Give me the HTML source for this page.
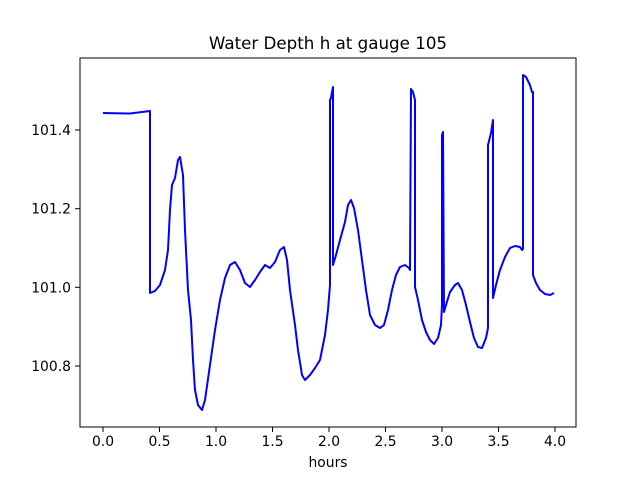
<!DOCTYPE html>
<html><head><meta charset="utf-8"><style>
body{margin:0;background:#fff;}
svg text{font-family:"DejaVu Sans","Liberation Sans",sans-serif;fill:#000;}
</style></head><body>
<svg width="640" height="480" xmlns="http://www.w3.org/2000/svg">
<rect width="640" height="480" fill="#fff"/>
<polyline fill="none" stroke="#0000ff" stroke-width="2" stroke-linejoin="round" points="103,113 130,113.5 150,111 150,293 155,291 160,285 165,270 168,250 170,210 172,185 175,178 178,160 180,157 183,175 185,230 188,290 191,320 193,360 195,390 198,405 202,410 205,400 210,365 215,330 220,300 225,278 230,265 235,262 240,270 245,283 250,287 255,280 260,272 265,265 270,268 275,262 280,250 284,247 287,260 290,290 295,325 298,350 302,375 305,380 310,375 315,368 320,360 325,335 328,310 330,285 330,100 331,98 332,92 333,87 333,265 336,255 340,240 345,222 348,205 351,200 354,208 358,230 362,260 366,290 370,315 375,325 380,328 384,325 388,310 392,290 396,275 400,267 405,265 409,268 410,270 411,89 413,92 415,100 415,287 418,300 422,320 426,332 430,340 434,344 438,338 441,325 442,305 442,135 443,132 444,312 446,305 450,292 455,285 458,283 462,290 466,305 470,322 474,338 478,347 482,348 486,338 488,328 488,145 491,133 493,120 493,298 496,285 500,270 505,257 510,248 515,246 520,247 522,250 523,249 523,75 526,77 530,85 532,92 533,92 533,275 536,283 540,290 545,294 550,295 554,293"/>
<rect x="80" y="58" width="496" height="369" fill="none" stroke="#000" stroke-width="1"/>
<g stroke="#000" stroke-width="1">
<line x1="103" y1="427" x2="103" y2="432"/><line x1="159.5" y1="427" x2="159.5" y2="432"/><line x1="216" y1="427" x2="216" y2="432"/><line x1="272.5" y1="427" x2="272.5" y2="432"/><line x1="329" y1="427" x2="329" y2="432"/><line x1="385.5" y1="427" x2="385.5" y2="432"/><line x1="442" y1="427" x2="442" y2="432"/><line x1="498.5" y1="427" x2="498.5" y2="432"/><line x1="555" y1="427" x2="555" y2="432"/>
<line x1="75" y1="130" x2="80" y2="130"/><line x1="75" y1="208.7" x2="80" y2="208.7"/><line x1="75" y1="287.3" x2="80" y2="287.3"/><line x1="75" y1="366" x2="80" y2="366"/>
</g>
<g font-size="13.9" text-anchor="middle">
<text x="103" y="446">0.0</text><text x="159.5" y="446">0.5</text><text x="216" y="446">1.0</text><text x="272.5" y="446">1.5</text><text x="329" y="446">2.0</text><text x="385.5" y="446">2.5</text><text x="442" y="446">3.0</text><text x="498.5" y="446">3.5</text><text x="555" y="446">4.0</text>
</g>
<g font-size="13.9" text-anchor="end">
<text x="71" y="135">101.4</text><text x="71" y="213.7">101.2</text><text x="71" y="292.3">101.0</text><text x="71" y="371">100.8</text>
</g>
<text x="328" y="467" font-size="13.9" text-anchor="middle">hours</text>
<text x="328" y="49" font-size="16.7" text-anchor="middle">Water Depth h at gauge 105</text>
</svg>
</body></html>
